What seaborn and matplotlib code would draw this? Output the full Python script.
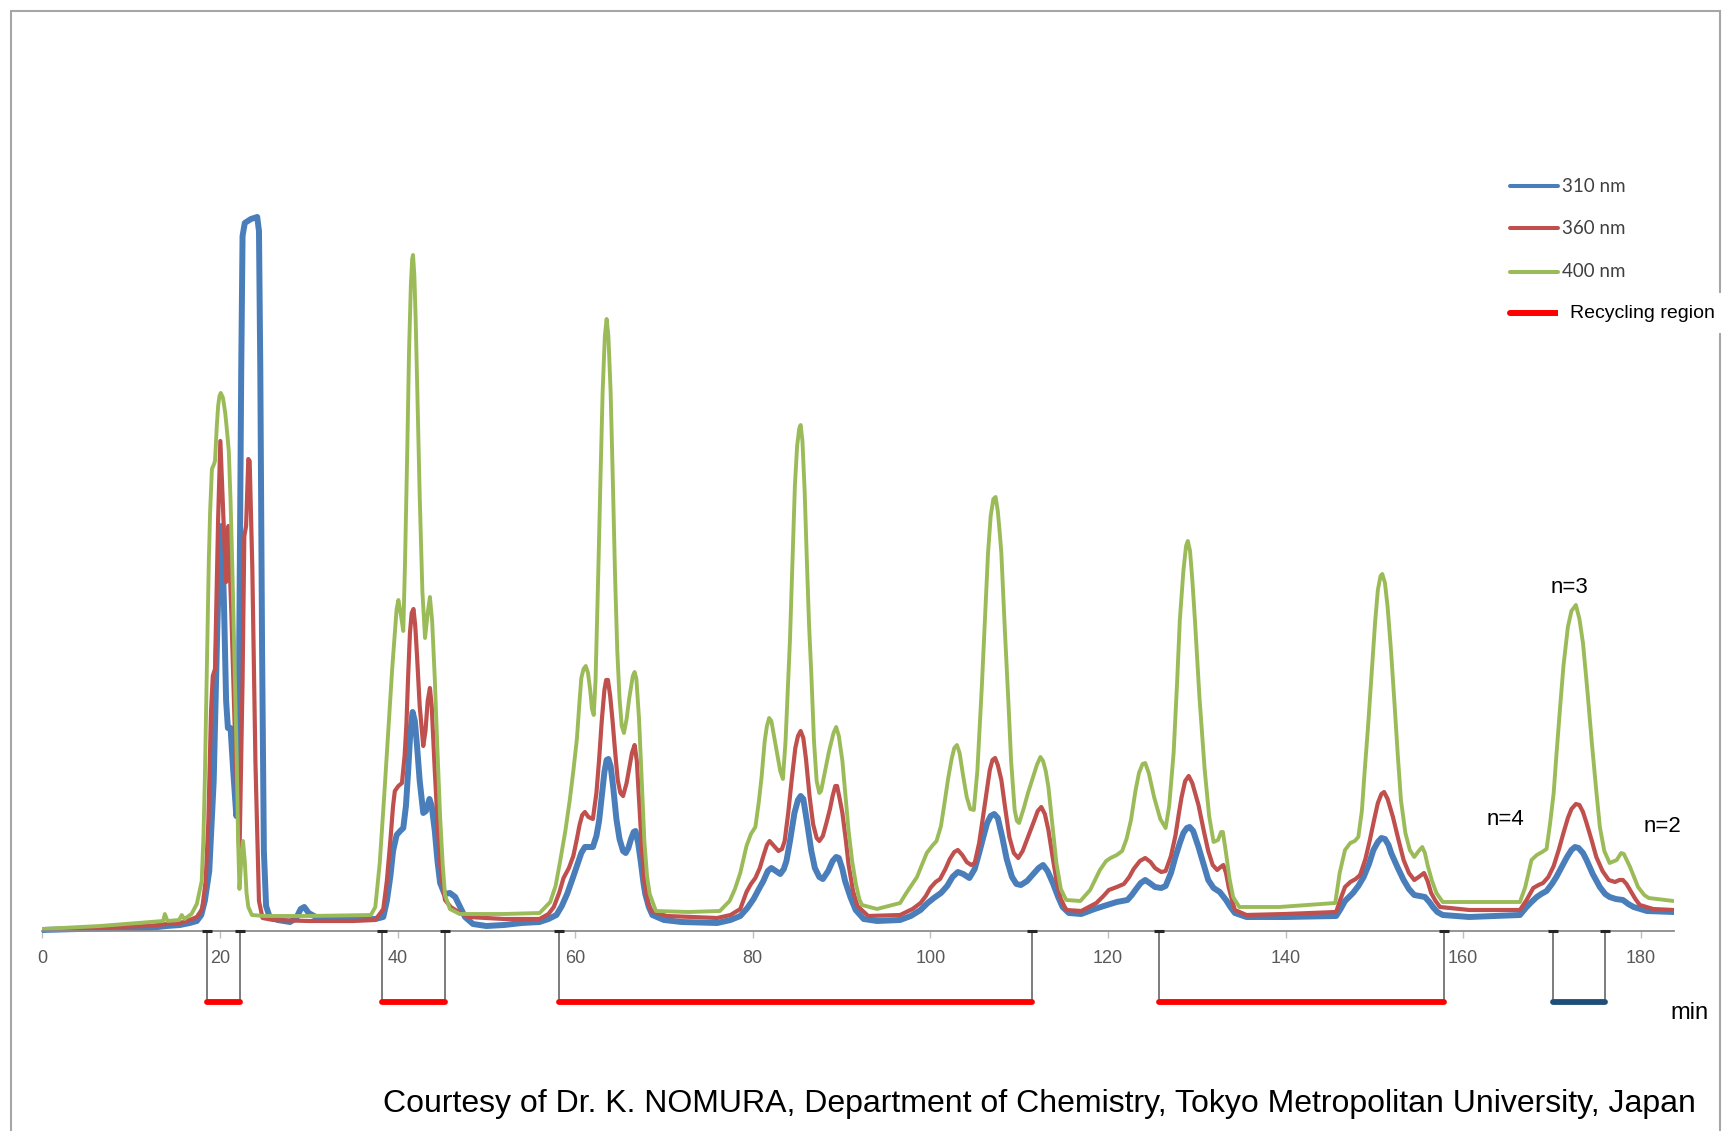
import matplotlib
matplotlib.use("Agg")
import matplotlib.pyplot as plt
from matplotlib.lines import Line2D
from matplotlib.patches import Rectangle
import pandas as pd
import seaborn as sns

# (minutes, detector signal in arbitrary units)
trace_310 = [
    (0, 1), (4, 2), (8, 3), (12, 3), (14, 5), (15.5, 6), (16.6, 8), (17.4, 10), (17.9, 16),
    (18.3, 30), (18.8, 60), (19.3, 150), (19.7, 300), (20.0, 395), (20.2, 405), (20.45, 330),
    (20.7, 230), (20.9, 203), (21.2, 203), (21.5, 160), (21.85, 115), (22.15, 250), (22.4, 560),
    (22.55, 695), (22.8, 708), (23.5, 712), (24.2, 714), (24.4, 700), (24.55, 560), (24.75, 280),
    (24.95, 80), (25.2, 25), (25.6, 14), (26.5, 11), (27.9, 9), (28.6, 13), (29.1, 22), (29.5, 24),
    (30.0, 18), (30.8, 14), (33, 12), (37.5, 12),
    (38.4, 14), (38.8, 30), (39.2, 55), (39.5, 80), (39.9, 96), (40.3, 100), (40.65, 103),
    (40.95, 125), (41.2, 160), (41.45, 200), (41.7, 219), (41.95, 210), (42.2, 185), (42.5, 150),
    (42.9, 118), (43.2, 120), (43.6, 132), (43.85, 125), (44.2, 100), (44.5, 70), (44.8, 48),
    (45.3, 37), (45.9, 38), (46.5, 34), (47.0, 25), (47.6, 14), (48.5, 7), (50, 5), (52, 6),
    (54, 8), (56.0, 9),
    (57.0, 12), (57.9, 16), (58.5, 25), (59.1, 37), (59.7, 52), (60.2, 65), (60.7, 78), (61.1, 84),
    (61.6, 84), (62.0, 84), (62.4, 95), (62.7, 110), (63.0, 135), (63.3, 159), (63.55, 171),
    (63.75, 172), (64.0, 165), (64.3, 143), (64.65, 112), (65.0, 92), (65.4, 80), (65.7, 78),
    (66.0, 83), (66.3, 92), (66.6, 99), (66.8, 100), (67.1, 88), (67.4, 69), (67.7, 48),
    (67.9, 37), (68.3, 24), (68.7, 16), (70, 11), (72, 9), (76, 8),
    (77.5, 11), (78.6, 15), (79.4, 23), (80.1, 32), (80.7, 42), (81.2, 50), (81.7, 60), (82.1, 63),
    (82.6, 60), (83.1, 57), (83.5, 62), (83.8, 70), (84.2, 90), (84.7, 118), (85.1, 131),
    (85.4, 135), (85.7, 132), (86.2, 104), (86.6, 80), (87.0, 63), (87.5, 54), (87.9, 52),
    (88.5, 60), (89.0, 70), (89.4, 74), (89.7, 73), (90.1, 62), (90.4, 50), (91.0, 34),
    (91.6, 21), (92.5, 12), (94, 10), (96.6, 11),
    (97.8, 15), (98.9, 21), (99.7, 28), (100.4, 33), (101.2, 38), (101.9, 45), (102.5, 54),
    (103.1, 59), (103.7, 57), (104.4, 53), (105.0, 62), (105.5, 78), (106.0, 95), (106.4, 108),
    (106.8, 115), (107.2, 117), (107.6, 113), (108.1, 94), (108.6, 72), (109.2, 54), (109.7, 47),
    (110.2, 46), (110.9, 50), (111.5, 56), (112.2, 63), (112.7, 66), (113.2, 60), (113.8, 48),
    (114.4, 34), (114.9, 24), (115.6, 18), (117, 17),
    (118.5, 22), (119.9, 26), (121.0, 29), (122.2, 31), (122.7, 36), (123.1, 41), (123.7, 48),
    (124.2, 51), (124.7, 48), (125.3, 44), (126.0, 43), (126.5, 45), (127.1, 58), (127.6, 74),
    (128.1, 88), (128.5, 98), (128.9, 103), (129.2, 104), (129.6, 100), (130.2, 84), (130.8, 66),
    (131.3, 51), (131.9, 43), (132.6, 39), (133.3, 31), (133.8, 24), (134.3, 18), (135.6, 14),
    (140, 14), (145.7, 15),
    (146.2, 22), (146.7, 30), (147.6, 38), (148.2, 45), (148.8, 54), (149.4, 67), (149.9, 81),
    (150.4, 89), (150.8, 93), (151.2, 92), (151.6, 86), (151.9, 78), (152.6, 64), (153.3, 51),
    (153.9, 42), (154.5, 36), (155.1, 35), (155.7, 34), (156.2, 29), (156.6, 24), (157.1, 19),
    (157.7, 16), (160.7, 14), (166.4, 16),
    (167.15, 24), (167.7, 29), (168.3, 34), (168.8, 37), (169.4, 40), (170.0, 47), (170.5, 54),
    (171.1, 64), (171.7, 74), (172.2, 81), (172.6, 84), (173.0, 83), (173.5, 78), (173.9, 71),
    (174.6, 57), (175.4, 44), (176.0, 37), (176.5, 34), (177.2, 32), (178.0, 31), (178.6, 27),
    (179.2, 24), (180.7, 20), (183.7, 19),
]

trace_360 = [
    (0, 1), (4, 2), (8, 4), (12, 5), (14, 7), (15.5, 8), (16.6, 11), (17.4, 14), (18.0, 22),
    (18.4, 50), (18.7, 110), (19.0, 220), (19.2, 255), (19.45, 262), (19.8, 412), (20.05, 490),
    (20.4, 412), (20.7, 349), (20.95, 405), (21.3, 315), (21.7, 194), (22.2, 73), (22.55, 250),
    (22.75, 395), (22.95, 405), (23.2, 472), (23.35, 470), (23.65, 363), (24.0, 169), (24.4, 30),
    (24.8, 13), (26, 11), (30, 10), (35, 10), (37.5, 11),
    (38.4, 22), (38.8, 50), (39.2, 91), (39.5, 125), (39.7, 140), (40.1, 145), (40.5, 148),
    (40.8, 175), (41.0, 206), (41.2, 255), (41.4, 298), (41.6, 318), (41.8, 322), (42.0, 305),
    (42.2, 275), (42.5, 225), (42.9, 185), (43.15, 200), (43.4, 230), (43.65, 243), (43.85, 225),
    (44.2, 160), (44.5, 110), (44.8, 68), (45.1, 45), (45.35, 31), (46.0, 24), (46.7, 20),
    (48, 14), (52, 12), (56.0, 12),
    (57.0, 17), (57.6, 24), (58.2, 38), (58.7, 53), (59.3, 63), (59.8, 75), (60.2, 92), (60.5, 106),
    (60.8, 116), (61.1, 119), (61.5, 114), (62.0, 112), (62.4, 138), (62.7, 171), (63.0, 210),
    (63.3, 241), (63.5, 251), (63.7, 251), (63.95, 235), (64.2, 212), (64.5, 180), (64.8, 151),
    (65.1, 138), (65.4, 135), (65.8, 148), (66.1, 163), (66.4, 178), (66.7, 186), (66.95, 170),
    (67.2, 131), (67.5, 85), (67.8, 49), (68.2, 28), (68.6, 20), (70.3, 15), (76, 13),
    (77.5, 16), (78.6, 22), (79.3, 39), (79.8, 47), (80.3, 53), (80.8, 63), (81.2, 75), (81.6, 86),
    (81.9, 90), (82.3, 86), (82.9, 80), (83.3, 82), (83.6, 90), (84.0, 118), (84.4, 152),
    (84.8, 183), (85.1, 195), (85.4, 200), (85.7, 193), (86.0, 172), (86.4, 135), (86.8, 107),
    (87.2, 93), (87.5, 90), (87.9, 95), (88.3, 108), (88.7, 122), (89.0, 135), (89.3, 145),
    (89.5, 145), (89.8, 132), (90.1, 118), (90.5, 90), (90.8, 66), (91.3, 40), (91.8, 25),
    (93, 15), (96.6, 16),
    (98.0, 22), (98.9, 28), (99.5, 35), (100.0, 43), (100.6, 49), (101.1, 52), (101.7, 62),
    (102.2, 72), (102.7, 79), (103.1, 81), (103.6, 76), (104.1, 69), (104.6, 66), (105.0, 68),
    (105.5, 88), (106.0, 118), (106.4, 143), (106.7, 161), (107.0, 171), (107.3, 173),
    (107.6, 166), (108.0, 151), (108.4, 125), (108.9, 94), (109.4, 78), (109.9, 73), (110.4, 80),
    (111.0, 94), (111.6, 108), (112.1, 120), (112.5, 124), (112.9, 117), (113.3, 101),
    (113.7, 78), (114.2, 51), (114.7, 32), (115.3, 21), (117, 20),
    (118.7, 28), (119.5, 35), (120.1, 41), (121.0, 44), (121.8, 47), (122.4, 54), (122.9, 62),
    (123.6, 70), (124.2, 73), (124.8, 69), (125.3, 63), (126.0, 59), (126.5, 60), (127.1, 75),
    (127.6, 95), (128.0, 118), (128.3, 134), (128.7, 150), (129.1, 155), (129.5, 148),
    (130.2, 126), (130.8, 100), (131.3, 80), (131.8, 66), (132.3, 61), (132.7, 64), (133.0, 66),
    (133.3, 58), (133.6, 44), (134.0, 30), (134.3, 21), (135.6, 16), (140, 17), (145.7, 19),
    (146.2, 32), (146.7, 44), (147.3, 49), (147.9, 52), (148.4, 56), (149.0, 72), (149.5, 91),
    (150.0, 112), (150.4, 128), (150.8, 137), (151.1, 139), (151.5, 132), (152.1, 114),
    (152.7, 92), (153.3, 71), (153.9, 58), (154.5, 51), (155.0, 54), (155.6, 58), (156.0, 50),
    (156.4, 38), (156.9, 30), (157.4, 24), (160.7, 21), (166.4, 21),
    (167.15, 31), (167.9, 43), (168.5, 46), (169.0, 48), (169.6, 54), (170.2, 65), (170.8, 82),
    (171.3, 98), (171.8, 113), (172.2, 122), (172.7, 127), (173.1, 126), (173.5, 119),
    (173.9, 108), (174.5, 90), (175.0, 74), (175.7, 60), (176.4, 51), (177.1, 49), (177.6, 51),
    (178.0, 51), (178.4, 47), (178.8, 41), (179.4, 32), (179.9, 26), (181.4, 22), (183.7, 21),
]

trace_400 = [
    (0, 2), (6.5, 5), (12.1, 9), (13.6, 10), (13.8, 17), (14.1, 10), (15.4, 11), (15.7, 16),
    (16.0, 12), (16.8, 17), (17.4, 27), (17.95, 50), (18.15, 95), (18.3, 150), (18.45, 225),
    (18.6, 300), (18.75, 370), (18.9, 420), (19.1, 462), (19.3, 466), (19.45, 470), (19.65, 505),
    (19.8, 525), (19.95, 535), (20.1, 538), (20.35, 533), (20.6, 518), (20.8, 500), (21.0, 480),
    (21.2, 430), (21.4, 363), (21.65, 265), (21.9, 170), (22.05, 90), (22.2, 42), (22.4, 70),
    (22.6, 90), (22.8, 70), (23.0, 38), (23.2, 24), (23.6, 16), (25, 15), (30, 15), (37, 16),
    (37.5, 24),
    (38.0, 68), (38.5, 135), (39.0, 206), (39.4, 262), (39.7, 298), (39.9, 322), (40.1, 331),
    (40.35, 318), (40.65, 300), (40.85, 370), (41.1, 481), (41.3, 580), (41.5, 645), (41.65, 672),
    (41.75, 676), (41.9, 655), (42.05, 610), (42.25, 530), (42.5, 435), (42.8, 340), (43.1, 293),
    (43.4, 318), (43.65, 334), (43.9, 310), (44.2, 252), (44.5, 180), (44.8, 114), (45.1, 65),
    (45.35, 36), (45.9, 22), (47, 17), (52, 17), (56.0, 18),
    (57.2, 29), (57.8, 45), (58.3, 69), (58.9, 100), (59.4, 131), (59.8, 160), (60.2, 192),
    (60.5, 230), (60.7, 253), (60.95, 262), (61.2, 265), (61.45, 258), (61.7, 241), (61.9, 222),
    (62.1, 216), (62.3, 250), (62.6, 355), (62.85, 450), (63.1, 539), (63.35, 595), (63.55, 612),
    (63.75, 595), (64.0, 539), (64.25, 450), (64.5, 355), (64.75, 280), (65.0, 233), (65.25, 205),
    (65.5, 198), (65.8, 212), (66.1, 233), (66.5, 255), (66.7, 259), (66.9, 252), (67.2, 212),
    (67.5, 150), (67.8, 90), (68.1, 55), (68.4, 37), (69.1, 20), (72.8, 19), (76.3, 20),
    (77.4, 30), (78.0, 42), (78.6, 58), (79.3, 85), (79.8, 97), (80.3, 104), (80.7, 130),
    (81.0, 154), (81.35, 190), (81.6, 205), (81.85, 213), (82.1, 210), (82.4, 195), (82.7, 180),
    (83.1, 160), (83.4, 152), (83.7, 190), (84.0, 250), (84.2, 292), (84.5, 375), (84.75, 445),
    (85.0, 485), (85.25, 503), (85.4, 506), (85.6, 490), (85.85, 440), (86.1, 370), (86.35, 305),
    (86.6, 257), (86.9, 190), (87.2, 150), (87.5, 138), (87.7, 140), (88.1, 158), (88.6, 180),
    (89.1, 198), (89.4, 204), (89.7, 195), (90.1, 170), (90.45, 135), (90.8, 100), (91.2, 70),
    (91.6, 48), (92.0, 32), (92.3, 26), (94, 22), (96.6, 28),
    (97.3, 38), (98.5, 54), (99.6, 78), (100.2, 85), (100.7, 90), (101.2, 105), (101.6, 128),
    (102.0, 152), (102.4, 172), (102.7, 183), (103.0, 186), (103.3, 178), (103.7, 155),
    (104.1, 134), (104.5, 122), (104.9, 121), (105.3, 160), (105.8, 244), (106.2, 320),
    (106.5, 378), (106.8, 415), (107.1, 432), (107.35, 434), (107.6, 420), (107.85, 395),
    (108.0, 378), (108.4, 300), (108.8, 228), (109.1, 170), (109.5, 121), (109.75, 110),
    (110.0, 108), (110.5, 122), (111.0, 138), (111.5, 152), (112.0, 166), (112.4, 174),
    (112.7, 170), (113.0, 160), (113.3, 144), (113.7, 110), (114.2, 68), (114.7, 42), (115.3, 31),
    (116.9, 30),
    (118.0, 41), (119.1, 61), (119.8, 70), (120.3, 73), (121.0, 76), (121.6, 80), (122.1, 92),
    (122.6, 111), (123.1, 140), (123.5, 158), (123.9, 167), (124.2, 168), (124.6, 158),
    (125.2, 134), (125.9, 112), (126.5, 103), (126.9, 125), (127.4, 178), (127.8, 250),
    (128.1, 311), (128.5, 360), (128.8, 385), (129.0, 390), (129.25, 380), (129.5, 352),
    (129.8, 311), (130.3, 235), (130.9, 161), (131.4, 115), (131.9, 89), (132.4, 91),
    (132.75, 99), (132.95, 99), (133.3, 78), (133.7, 52), (134.1, 34), (134.8, 24), (139.3, 24),
    (145.6, 28),
    (146.1, 58), (146.7, 81), (147.3, 88), (147.8, 90), (148.2, 94), (148.6, 120), (148.9, 158),
    (149.3, 205), (149.7, 258), (150.1, 310), (150.4, 341), (150.7, 355), (150.9, 357),
    (151.2, 348), (151.5, 324), (151.9, 278), (152.3, 224), (152.65, 175), (153.0, 131),
    (153.5, 98), (154.0, 81), (154.5, 74), (155.0, 80), (155.4, 84), (155.7, 78), (156.0, 66),
    (156.5, 50), (157.0, 38), (157.7, 29), (166.4, 29),
    (167.0, 44), (167.7, 71), (168.3, 76), (168.9, 79), (169.4, 82), (169.8, 108), (170.2, 138),
    (170.5, 175), (170.9, 221), (171.3, 265), (171.8, 304), (172.2, 320), (172.7, 326),
    (173.1, 312), (173.5, 288), (174.0, 240), (174.5, 188), (175.0, 140), (175.4, 104),
    (175.9, 80), (176.5, 68), (177.3, 71), (177.8, 78), (178.1, 77), (178.8, 64), (179.7, 44),
    (180.4, 36), (180.9, 33), (183.7, 30),
]

tick_minutes = [0, 20, 40, 60, 80, 100, 120, 140, 160, 180]
recycle_spans = [(18.5, 22.3), (38.2, 45.3), (58.2, 111.4), (125.7, 157.8)]
collect_span = (170.1, 176.0)
peak_notes = [("n=4", 164.8, 111), ("n=3", 172.0, 343), ("n=2", 182.5, 104)]

series = [
    ("310 nm", trace_310, "#4a7ebb", 4.3),
    ("360 nm", trace_360, "#c0504d", 3.0),
    ("400 nm", trace_400, "#9bbb59", 2.8),
]

sns.set_theme(style="white")
plt.rcParams["font.family"] = ["Liberation Sans", "DejaVu Sans"]
plt.rcParams["text.color"] = "black"

fig = plt.figure(figsize=(17.24, 11.31), dpi=100)
ax = fig.add_axes([0.02454, 0.09726, 0.9462, 0.7604])

for name, pts, col, lw in series:
    df = pd.DataFrame(pts, columns=["minute", "signal"])
    sns.lineplot(data=df, x="minute", y="signal", ax=ax, color=col, linewidth=lw,
                 estimator=None, sort=False, solid_joinstyle="round")

ax.set_xlim(0, 183.7)
ax.set_ylim(-90, 770)
ax.set_xlabel("")
ax.set_ylabel("")
ax.set_yticks([])
ax.set_xticks(tick_minutes)
ax.set_xticklabels([str(t) for t in tick_minutes])
for lbl in ax.get_xticklabels():
    lbl.set_fontfamily("Lato")
for side in ["top", "left", "right"]:
    ax.spines[side].set_visible(False)
ax.spines["bottom"].set_position(("data", 0))
ax.spines["bottom"].set_color("#8c8c8c")
ax.spines["bottom"].set_linewidth(1.3)
ax.tick_params(axis="x", bottom=True, direction="out", length=5, width=1, color="#bfbfbf",
               pad=9, labelsize=13, labelcolor="#595959")

# recycling brackets under the axis
edges = [e for span in recycle_spans + [collect_span] for e in span]
ax.vlines(edges, -71, 0, color="#595959", lw=1.1, zorder=1)
ax.plot(edges, [0] * len(edges), ls="none", marker="_", ms=6.5, mew=2.2, color="#262626", zorder=4)
for a, b in recycle_spans:
    ax.plot([a, b], [-71, -71], color="#ff0000", lw=4.2, solid_capstyle="round", zorder=3)
ax.plot(list(collect_span), [-71, -71], color="#1f4e79", lw=4.2, solid_capstyle="round", zorder=3)

for txt, x, y in peak_notes:
    ax.text(x, y, txt, ha="center", va="center", fontsize=16, color="black")

# outer frame
fig.add_artist(Rectangle((0.00638, -0.1), 0.9913, 1.09027, transform=fig.transFigure,
                         fill=False, ec="#a6a6a6", lw=1.5, zorder=0))

# legend drawn by hand, as in the original
leg_y = [0.83554, 0.79814, 0.75977]
for (name, pts, col, lw), y in zip(series, leg_y):
    fig.add_artist(Line2D([0.8759, 0.9037], [y, y], transform=fig.transFigure, color=col,
                          lw=2.9, solid_capstyle="round"))
    fig.text(0.9059, y, name, ha="left", va="center", fontsize=13.5, family="Lato", color="#404040")
fig.add_artist(Line2D([0.8759, 0.9037], [0.7230, 0.7230], transform=fig.transFigure,
                      color="#ff0000", lw=4.3, solid_capstyle="round"))
fig.text(0.9107, 0.7230, "Recycling region", ha="left", va="center", fontsize=14, color="black",
         bbox=dict(boxstyle="square,pad=0.6", fc="white", ec="none"), zorder=5)

fig.text(1690 / 1724, 1 - 1013 / 1131, "min", ha="center", va="center", fontsize=17, color="black")
fig.text(383 / 1724, 1 - 1104 / 1131,
         "Courtesy of Dr. K. NOMURA, Department of Chemistry, Tokyo Metropolitan University, Japan",
         ha="left", va="center", fontsize=23, color="black")

fig.savefig("out.png", dpi=100, facecolor="white")
